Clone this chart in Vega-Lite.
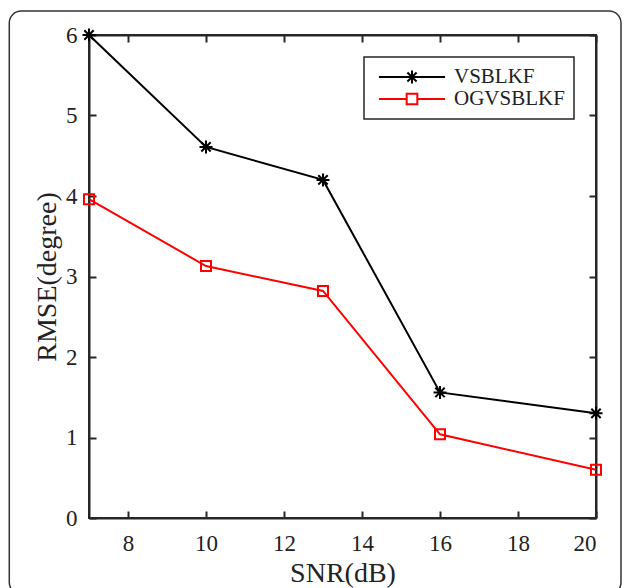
{
  "$schema": "https://vega.github.io/schema/vega-lite/v6.json",
  "width": 507,
  "height": 483,
  "autosize": {"type": "none"},
  "padding": {"left": 89, "top": 35, "right": 34, "bottom": 70},
  "background": "white",
  "config": {
    "view": {"stroke": "#262626", "strokeWidth": 2},
    "font": "Liberation Serif",
    "axis": {
      "labelFont": "Liberation Serif",
      "titleFont": "Liberation Serif",
      "labelFontSize": 23,
      "titleFontSize": 28,
      "titleFontWeight": "normal",
      "labelColor": "#222222",
      "titleColor": "#222222",
      "domainColor": "#262626",
      "domainWidth": 2,
      "tickColor": "#262626",
      "tickWidth": 2,
      "tickSize": -7,
      "grid": false
    },
    "legend": {
      "labelFont": "Liberation Serif",
      "labelFontSize": 21,
      "labelColor": "#222222"
    }
  },
  "data": {
    "values": [
      {"snr": 7, "rmse": 6.0, "method": "VSBLKF"},
      {"snr": 10, "rmse": 4.61, "method": "VSBLKF"},
      {"snr": 13, "rmse": 4.2, "method": "VSBLKF"},
      {"snr": 16, "rmse": 1.56, "method": "VSBLKF"},
      {"snr": 20, "rmse": 1.3, "method": "VSBLKF"},
      {"snr": 7, "rmse": 3.96, "method": "OGVSBLKF"},
      {"snr": 10, "rmse": 3.13, "method": "OGVSBLKF"},
      {"snr": 13, "rmse": 2.82, "method": "OGVSBLKF"},
      {"snr": 16, "rmse": 1.04, "method": "OGVSBLKF"},
      {"snr": 20, "rmse": 0.6, "method": "OGVSBLKF"}
    ]
  },
  "layer": [
    {
      "data": {"values": [{}]},
      "mark": {"type": "rect", "fill": null, "stroke": "#333333", "strokeWidth": 1.5, "cornerRadius": 12, "clip": false},
      "encoding": {
        "x": {"datum": 4.956, "type": "quantitative", "axis": null},
        "x2": {"datum": 20.641},
        "y": {"datum": 6.298, "type": "quantitative", "axis": null},
        "y2": {"datum": -0.95}
      }
    },
    {
      "mark": {"type": "line", "strokeWidth": 2, "clip": false},
      "encoding": {
        "x": {
          "field": "snr", "type": "quantitative",
          "scale": {"domain": [7, 20], "nice": false, "zero": false},
          "axis": {"orient": "bottom", "values": [8, 10, 12, 14, 16, 18, 20], "title": "SNR(dB)", "labelPadding": 21, "titlePadding": 4}
        },
        "y": {
          "field": "rmse", "type": "quantitative",
          "scale": {"domain": [0, 6], "nice": false},
          "axis": {"orient": "left", "values": [0, 1, 2, 3, 4, 5, 6], "title": "RMSE(degree)", "labelPadding": 19, "titlePadding": 4}
        },
        "color": {
          "field": "method", "type": "nominal",
          "scale": {"domain": ["VSBLKF", "OGVSBLKF"], "range": ["#000000", "#ff0000"]},
          "legend": {
            "title": null,
            "orient": "none",
            "legendX": 275,
            "legendY": 22,
            "direction": "vertical",
            "strokeColor": "#262626",
            "fillColor": "white",
            "padding": 9,
            "symbolSize": 5776,
            "symbolStrokeWidth": 2,
            "clipHeight": 22,
            "labelOffset": 3,
            "rowPadding": 0,
            "encode": {
              "legend": {"update": {"strokeWidth": {"value": 1.5}}},
              "symbols": {
                "update": {
                  "shape": {"signal": "datum.value === 'VSBLKF' ? 'M-0.87,0H0.87M0,-0.17V0.17M-0.17,0H0.17M-0.12,-0.12L0.12,0.12M-0.12,0.12L0.12,-0.12' : 'M-0.87,0H-0.14M0.14,0H0.87M-0.14,-0.14H0.14V0.14H-0.14Z'"},
                  "fill": {"value": "white"},
                  "strokeWidth": {"value": 2}
                }
              }
            }
          }
        }
      }
    },
    {
      "transform": [{"filter": "datum.method === 'VSBLKF'"}],
      "mark": {
        "type": "point", "filled": false, "strokeWidth": 2, "opacity": 1, "clip": false, "size": 169,
        "shape": "M-1,0H1M0,-1V1M-0.72,-0.72L0.72,0.72M-0.72,0.72L0.72,-0.72"
      },
      "encoding": {
        "x": {
          "field": "snr", "type": "quantitative",
          "axis": {"orient": "top", "values": [8, 10, 12, 14, 16, 18, 20], "labels": false, "title": null}
        },
        "y": {
          "field": "rmse", "type": "quantitative",
          "axis": {"orient": "right", "values": [0, 1, 2, 3, 4, 5, 6], "labels": false, "title": null}
        },
        "color": {"field": "method", "type": "nominal"}
      }
    },
    {
      "transform": [{"filter": "datum.method === 'OGVSBLKF'"}],
      "mark": {"type": "point", "filled": false, "strokeWidth": 2, "opacity": 1, "clip": false, "size": 100, "shape": "square"},
      "encoding": {
        "x": {"field": "snr", "type": "quantitative", "axis": null},
        "y": {"field": "rmse", "type": "quantitative", "axis": null},
        "color": {"field": "method", "type": "nominal"}
      }
    }
  ],
  "resolve": {"axis": {"x": "independent", "y": "independent"}}
}
